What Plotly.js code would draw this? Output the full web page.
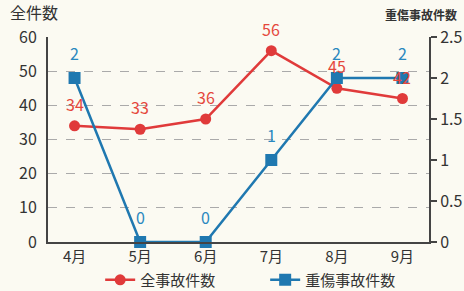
<!DOCTYPE html>
<html><head><meta charset="utf-8">
<script src="https://cdn.plot.ly/plotly-3.0.1.min.js"></script>
<style>html,body{margin:0;padding:0;background:#fbfaf2;}#chart{width:464px;height:291px;}</style>
</head><body><div id="chart"></div>
<script>
const months = ['4月','5月','6月','7月','8月','9月'];
const totalAccidents = [34, 33, 36, 56, 45, 42];
const seriousAccidents = [2, 0, 0, 1, 2, 2];
const leftTicks = [0,10,20,30,40,50,60];
const rightTicks = [0,0.5,1,1.5,2,2.5];
const rightTickText = ['0','0.5','1','1.5','2','2.5'];

const red = '#e03a3a', blue = '#1f78b0';
const font = 'Noto Sans CJK JP, Noto Sans, sans-serif';

const traces = [
  {x: months, y: totalAccidents, name: '全事故件数', type: 'scatter', mode: 'lines+markers',
   line: {color: red, width: 2.5}, marker: {color: red, size: 11, symbol: 'circle'}, cliponaxis: false},
  {x: months, y: seriousAccidents, name: '重傷事故件数', type: 'scatter', mode: 'lines+markers', yaxis: 'y2',
   line: {color: blue, width: 2.5}, marker: {color: blue, size: 12, symbol: 'square'}, cliponaxis: false}
];

const annotations = [];
months.forEach((m, i) => {
  annotations.push({x: m, y: totalAccidents[i], xref: 'x', yref: 'y', text: String(totalAccidents[i]),
    showarrow: false, yshift: 22, font: {family: font, size: 16, color: '#e5473c'}});
  annotations.push({x: m, y: seriousAccidents[i], xref: 'x', yref: 'y2', text: String(seriousAccidents[i]),
    showarrow: false, yshift: 25, font: {family: font, size: 16, color: '#2a88bf'}});
});
annotations.push({xref: 'paper', yref: 'paper', x: -0.105, y: 1.052, xanchor: 'left', yanchor: 'bottom',
  text: '全件数', showarrow: false, font: {family: font, size: 16, color: '#333'}});
annotations.push({xref: 'paper', yref: 'paper', x: 0.979, y: 1.06, xanchor: 'center', yanchor: 'bottom',
  text: '<b>重傷事故件数</b>', showarrow: false, font: {family: font, size: 12, color: '#333'}});

const layout = {
  width: 464, height: 291,
  margin: {l: 48, r: 35, t: 37, b: 49, autoexpand: false},
  paper_bgcolor: '#fbfaf2', plot_bgcolor: 'rgba(0,0,0,0)',
  font: {family: font, color: '#333'},
  showlegend: true,
  legend: {orientation: 'h', x: 0.57, xanchor: 'center', y: -0.105, yanchor: 'top', entrywidth: 120,
    font: {family: font, size: 15, color: '#333'}, bgcolor: 'rgba(0,0,0,0)'},
  xaxis: {type: 'category', showline: true, linecolor: '#444', linewidth: 2, showgrid: false,
    ticks: '', tickfont: {family: font, size: 15, color: '#333'}, zeroline: false},
  yaxis: {range: [0, 60], tickvals: leftTicks, showline: true, linecolor: '#444', linewidth: 2,
    showgrid: true, gridcolor: '#aaa', griddash: 'dash', gridwidth: 1, zeroline: false,
    ticks: '', tickfont: {family: font, size: 16, color: '#333'}, ticklabelstandoff: 6},
  yaxis2: {range: [0, 2.5], tickvals: rightTicks, ticktext: rightTickText, overlaying: 'y', side: 'right',
    showline: true, linecolor: '#444', linewidth: 2, showgrid: false, zeroline: false,
    ticks: 'outside', ticklen: 6, tickcolor: '#444', tickwidth: 1.5,
    tickfont: {family: font, size: 16, color: '#333'}},
  annotations: annotations
};
Plotly.newPlot('chart', traces, layout, {displayModeBar: false, staticPlot: true});
</script></body></html>
